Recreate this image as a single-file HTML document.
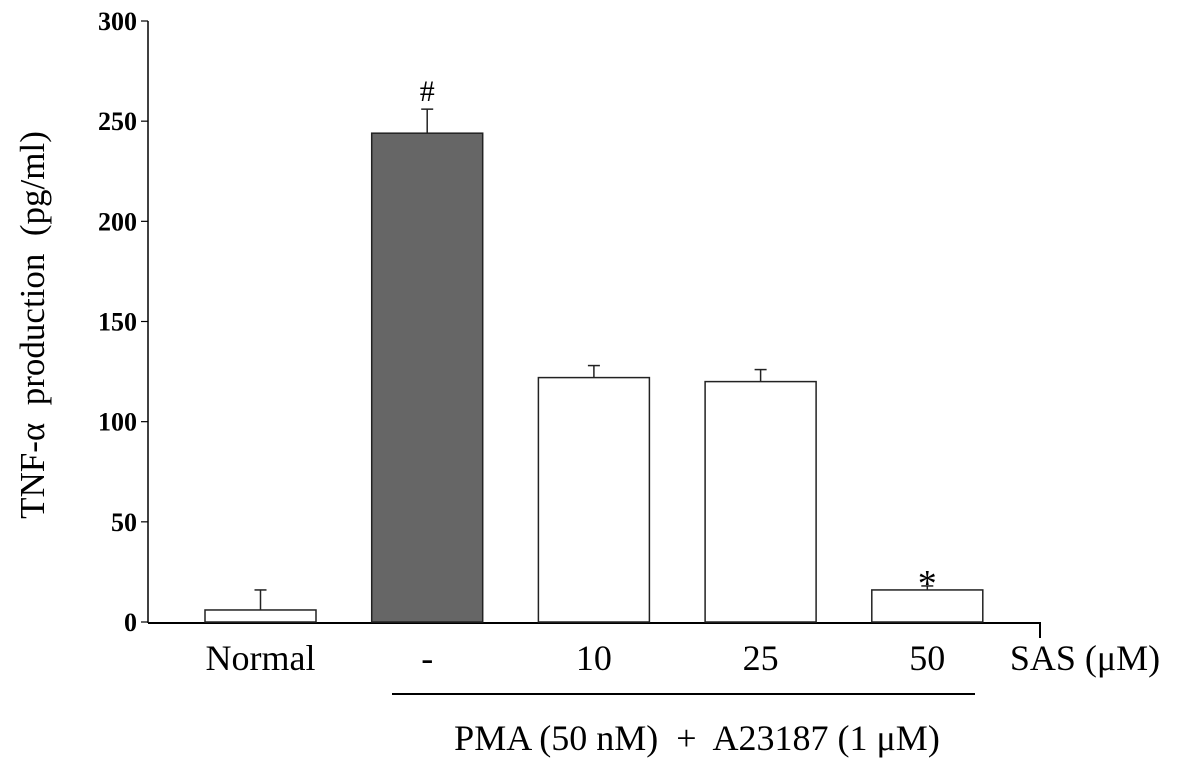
<!DOCTYPE html>
<html><head><meta charset="utf-8"><style>
body{margin:0;background:#fff;}
svg text{font-family:"Liberation Serif",serif;white-space:pre;}
</style></head><body>
<svg id="chart" width="1181" height="771">
<g id="axes"></g><g id="bars"></g>
</svg>
<script>
const categories=["Normal","-","10","25","50"];
const values=[6,244,122,120,16];
const errors=[10,12,6,6,2];
const fills=["#fff","#666666","#fff","#fff","#fff"];
const yTicks=[0,50,100,150,200,250,300];
const marks=["","#","","","*"];
const NS="http://www.w3.org/2000/svg";
const x0=148,y0=622,yTop=21,yMax=300;
const y=v=>y0-(v/yMax)*(y0-yTop);
const barX=i=>205+i*166.7, bw=111;
function el(t,a,p,txt){const e=document.createElementNS(NS,t);for(const k in a)e.setAttribute(k,a[k]);if(txt!==undefined)e.textContent=txt;p.appendChild(e);return e;}
const ax=document.getElementById('axes'),bg=document.getElementById('bars');
let e=el('line',{x1:x0,y1:yTop,x2:x0,y2:y0+1,stroke:'#000','stroke-width':1.5},ax);

e=el('polyline',{points:`${x0},${y0+1} 1040,${y0+1} 1040,638`,fill:'none',stroke:'#000','stroke-width':2},ax);

yTicks.forEach(t=>{
 el('line',{x1:x0-7,y1:y(t),x2:x0,y2:y(t),stroke:'#000','stroke-width':1.2},ax);
 const tx=el('text',{x:137,y:y(t)+9,'text-anchor':'end','font-size':26,'font-weight':'bold'},ax,t);
 
});
categories.forEach((c,i)=>{
 const bx=barX(i),top=y(values[i]),et=y(values[i]+errors[i]),cx=bx+bw/2;
 const r=el('rect',{x:bx,y:top,width:bw,height:y0-top,fill:fills[i],stroke:'#222','stroke-width':1.5},bg);
 
 el('line',{x1:cx,y1:top,x2:cx,y2:et,stroke:'#222','stroke-width':1.5},bg);
 el('line',{x1:cx-6,y1:et,x2:cx+6,y2:et,stroke:'#222','stroke-width':1.5},bg);
 if(marks[i]){const m=el('text',{x:cx,y:et-8,'text-anchor':'middle','font-size':30},bg,marks[i]);
  if(marks[i]=='*'){m.setAttribute('y',et+10);m.setAttribute('font-size',38);}
  }
 const l=el('text',{x:cx,y:670,'text-anchor':'middle','font-size':36},bg,c);
 
});
e=el('text',{x:1085,y:670,'text-anchor':'middle','font-size':36},ax,'SAS (μM)');

e=el('line',{x1:392,y1:694,x2:975,y2:694,stroke:'#000','stroke-width':2},ax);

e=el('text',{x:697,y:750,'text-anchor':'middle','font-size':36},ax,'PMA (50 nM)  +  A23187 (1 μM)');

e=el('text',{x:0,y:0,'text-anchor':'middle','font-size':35,transform:'translate(44,325) rotate(-90)'},ax,'TNF-α  production  (pg/ml)');

</script>
</body></html>
